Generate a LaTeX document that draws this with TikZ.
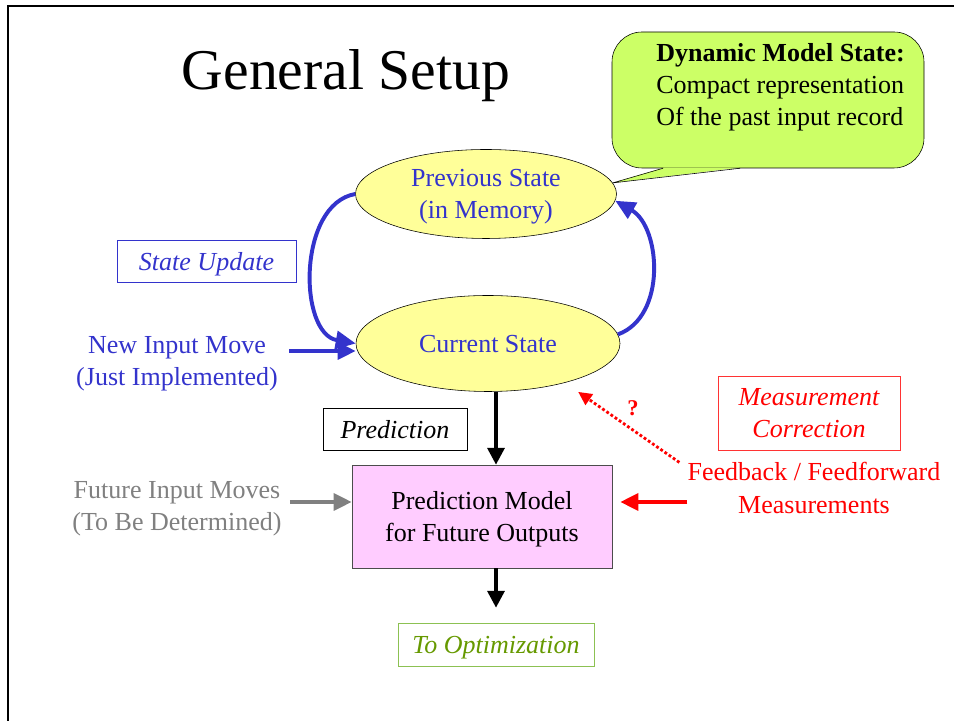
\documentclass[tikz,border=0pt]{standalone}
\usepackage{fontspec}
\setmainfont{Liberation Serif}
\usetikzlibrary{arrows.meta,shapes.geometric}
\usepackage{xcolor}

\definecolor{slideblue}{HTML}{3333CC}
\definecolor{stateyellow}{HTML}{FFFF99}
\definecolor{notegreen}{HTML}{CCFF66}
\definecolor{modelpink}{HTML}{FFCCFF}
\definecolor{optgreen}{HTML}{669900}
\definecolor{optframe}{HTML}{8CC152}
\definecolor{fbred}{HTML}{FF0000}

\newcommand{\slidefont}{\fontsize{18.5}{23}\selectfont}

\begin{document}
\begin{tikzpicture}[
  state/.style={ellipse, draw=black, fill=stateyellow, inner sep=0pt, text depth=0pt,
                font=\slidefont, text=slideblue, align=center},
  tag/.style={draw, inner sep=0pt, minimum height=1.05cm, align=center, text depth=0pt,
              font=\slidefont\itshape},
  note/.style={inner sep=0pt, font=\slidefont, align=center, text depth=0pt},
  flow/.style={line width=2.8pt, -{Triangle[length=0.45cm, width=0.42cm]}},
  blkflow/.style={line width=2.6pt, black, -{Triangle[length=0.42cm, width=0.42cm]}},
  updarc/.style={line width=2.8pt, slideblue, -{Triangle[length=0.5cm, width=0.45cm]}},
]
  % Slide frame and title
  \useasboundingbox (0,0) rectangle (23.85,18.025);
  \draw[line width=1.8pt] (0.2,0) |- (23.85,17.875);
  \node[font=\fontsize{41}{41}\selectfont, anchor=base] (title) at (8.65,15.775) {General Setup};

  % State ellipses
  \node[state, minimum width=6.525cm, minimum height=2.225cm] (prev) at (12.15,13.175)
    {Previous State\\(in Memory)};
  \node[state, minimum width=6.6cm, minimum height=2.4cm] (cur) at (12.2,9.4375)
    {Current State};

  % Callout on the previous state
  \node[draw, fill=notegreen, rounded corners=0.75cm, minimum width=7.8cm,
        minimum height=3.4cm] (dms) at (19.2,15.525) {};
  \fill[notegreen] ([xshift=-2.6cm,yshift=0.015cm]dms.south) -- (prev.5)
    -- ([xshift=-0.72cm,yshift=0.015cm]dms.south) -- cycle;
  \draw ([xshift=-2.625cm]dms.south) -- (prev.5) -- ([xshift=-0.7cm]dms.south);
  \node[anchor=north west, align=left, inner sep=0pt, font=\slidefont] (dmstext) at (16.4,16.95)
    {\textbf{Dynamic Model State:}\\Compact representation\\Of the past input record};

  % State update loop
  \draw[updarc] (prev.west) to[out=190, in=170] (cur.west);
  \draw[updarc] (cur.4) to[out=20, in=-30] (prev.-3);
  \node[tag, draw=slideblue, text=slideblue, minimum width=4.475cm] (upd) at (5.1625,11.5) {State Update};

  % Prediction model
  \node[note, draw=black!70, fill=modelpink, minimum width=6.5cm, minimum height=2.575cm] (pm)
    at (12.05,5.1125) {Prediction Model\\for Future Outputs};
  \node[tag, minimum width=3.6cm] (pred) at (9.875,7.3) {Prediction};
  \node[tag, draw=optframe, text=optgreen, minimum width=4.9cm, minimum height=1.075cm] (opt)
    at (12.4,1.9125) {To Optimization};
  \draw[blkflow] (cur.south -| opt.north) -- (pm.north -| opt.north);
  \draw[blkflow, shorten >=0.375cm] (pm.south -| opt.north) -- (opt.north);

  % Inputs
  \node[note, text=slideblue] (newin) at (4.425,9.0) {New Input Move\\(Just Implemented)};
  \draw[flow, slideblue, shorten <=0.28cm, transform canvas={yshift=0.25cm}]
    (newin.east) -- (newin.east -| cur.west);
  \node[note, text=gray] (futin) at (4.425,5.38) {Future Input Moves\\(To Be Determined)};
  \draw[flow, gray, shorten <=0.2cm, transform canvas={yshift=0.095cm}]
    (futin.east) -- (futin.east -| pm.west);

  % Measurements
  \node[tag, draw=fbred!80, text=fbred, minimum width=4.55cm, minimum height=1.85cm] (mc)
    at (20.225,7.7) {Measurement\\Correction};
  \node[note, text=fbred] (fb) at (20.35,5.825) {Feedback / Feedforward\\Measurements};
  \draw[flow, fbred, shorten >=0.2cm, transform canvas={yshift=-0.35cm}]
    (fb.west) -- (fb.west -| pm.east);
  \draw[fbred, line width=2pt, dash pattern=on 2pt off 1.6pt, shorten >=0.4cm,
        -{Triangle[length=0.34cm, width=0.32cm]}] ([xshift=-0.2cm]fb.north west) -- (cur.-27);
  \node[text=fbred, font=\fontsize{16}{16}\selectfont\bfseries] (qm) at (15.825,7.825) {?};
\end{tikzpicture}
\end{document}
